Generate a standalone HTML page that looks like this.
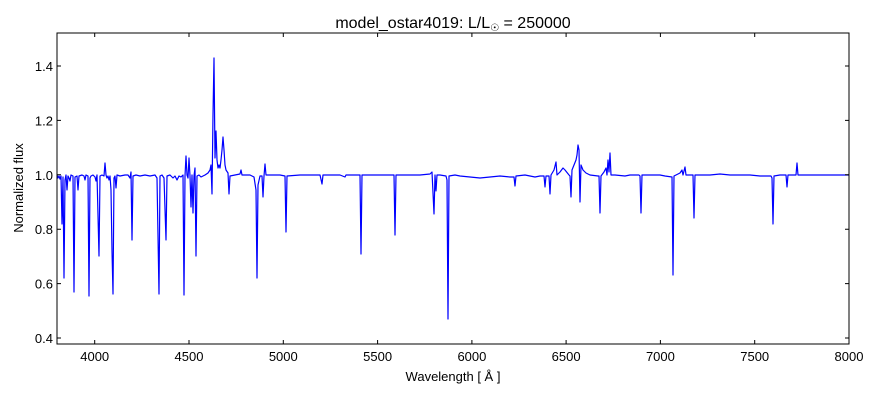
<!DOCTYPE html>
<html><head><meta charset="utf-8"><style>
body{margin:0;background:#fff}
svg text{font-family:"Liberation Sans","DejaVu Sans",sans-serif;fill:#000}
</style></head><body>
<svg width="880" height="400" viewBox="0 0 880 400" xmlns="http://www.w3.org/2000/svg">
<rect width="880" height="400" fill="#fff"/>
<text x="453" y="28" font-size="16" text-anchor="middle">model_ostar4019: L/L<tspan font-size="10" dy="3">☉</tspan><tspan dy="-3"> = 250000</tspan></text>
<clipPath id="c"><rect x="57" y="33" width="792" height="311"/></clipPath>
<g clip-path="url(#c)">
<path fill="none" stroke="#0000ff" stroke-width="1.2" stroke-linejoin="round" d="
M57 175 L58 178 L59 176 L60 179 L61 176 L62 224 L63 177 L64 278 L65 180 L66 175 L67 190 L68 176 L69 178 L70 181 L71 175 L73 176 L74 292 L75 177 L77 176 L78 190 L79 176 L82 175 L84 176 L85 180 L86 175 L88 176 L89 296 L90 178 L91 176 L93 175 L95 177 L96 181 L97 175 L99 256 L100 176 L102 175 L104 176 L105 163 L106 175 L107 178 L108 176 L109 180 L110 176 L111 190 L112 251 L113 294 L114 178 L115 176 L116 188 L117 175 L120 176 L125 175 L128 175 L130 178 L131 172 L132 240 L133 176 L136 175 L140 176 L145 175 L150 176 L155 175 L157 178 L159 294 L160 176 L162 175 L164 178 L166 240 L167 176 L170 175 L173 178 L175 176 L177 180 L179 176 L181 177 L183 175 L184 295 L185 176 L186 156 L187 175 L188 178 L189 158 L190 176 L191 207 L192 175 L193 213 L194 176 L195 168 L196 256 L197 176 L199 175 L201 177 L205 175 L208 173 L210 170 L211 165 L212 194 L213 115 L214 58 L215 158 L216 131 L217 160 L218 168 L219 165 L220 168 L221 160 L222 150 L223 137 L224 150 L225 165 L226 170 L228 173 L229 194 L230 176 L235 175 L240 174 L241 170 L242 175 L250 175 L254 177 L256 190 L257 278 L258 185 L260 176 L262 176 L263 197 L264 176 L265 164 L266 175 L270 175 L280 175 L285 176 L286 232 L287 176 L300 175 L320 175 L322 184 L323 175 L340 175 L345 177 L346 175 L360 175 L361 254 L362 175 L380 175 L394 175 L395 235 L396 175 L420 175 L430 174 L432 172 L434 214 L435 175 L436 191 L437 175 L440 175 L446 176 L447 180 L448 319 L449 176 L455 175 L460 176 L470 177 L480 178 L490 177 L500 176 L510 177 L514 177 L515 186 L516 176 L525 175 L535 177 L540 176 L544 176 L545 187 L546 176 L549 176 L550 194 L551 175 L554 170 L556 162 L557 175 L560 172 L563 168 L565 170 L569 175 L570 176 L571 197 L572 170 L574 165 L576 160 L577 155 L578 145 L579 150 L580 202 L581 165 L583 170 L586 173 L590 175 L598 176 L599 176 L600 213 L601 176 L604 172 L606 168 L607 175 L608 160 L609 172 L610 153 L611 175 L615 175 L625 176 L630 175 L639 175 L640 176 L641 213 L642 175 L660 175 L665 176 L672 177 L673 275 L674 176 L680 173 L682 170 L683 175 L685 167 L686 175 L693 175 L694 218 L695 175 L710 175 L720 174 L730 175 L750 175 L760 176 L771 176 L772 178 L773 224 L774 176 L780 175 L786 175 L787 187 L788 175 L795 175 L796 175 L797 163 L798 175 L820 175 L849 175"/>
</g>
<rect x="57" y="33" width="792" height="311" fill="none" stroke="#000" stroke-width="1"/>
<g stroke="#000" stroke-width="1">
<path d="M94.7 344v-4M189 344v-4M283.3 344v-4M377.6 344v-4M471.9 344v-4M566.1 344v-4M660.4 344v-4M754.7 344v-4M94.7 33v4M189 33v4M283.3 33v4M377.6 33v4M471.9 33v4M566.1 33v4M660.4 33v4M754.7 33v4"/>
<path d="M57 338h4M57 283.6h4M57 229.2h4M57 174.8h4M57 120.4h4M57 66h4M849 338h-4M849 283.6h-4M849 229.2h-4M849 174.8h-4M849 120.4h-4M849 66h-4"/>
</g>
<g font-size="13" text-anchor="middle">
<text x="94.7" y="361">4000</text><text x="189" y="361">4500</text><text x="283.3" y="361">5000</text><text x="377.6" y="361">5500</text><text x="471.9" y="361">6000</text><text x="566.1" y="361">6500</text><text x="660.4" y="361">7000</text><text x="754.7" y="361">7500</text><text x="849" y="361">8000</text>
</g>
<g font-size="13" text-anchor="end">
<text x="53" y="343">0.4</text><text x="53" y="288.6">0.6</text><text x="53" y="234.2">0.8</text><text x="53" y="179.8">1.0</text><text x="53" y="125.4">1.2</text><text x="53" y="71">1.4</text>
</g>
<text x="453" y="381" font-size="13" text-anchor="middle">Wavelength [ Å ]</text>
<text transform="translate(23 188) rotate(-90)" font-size="13" text-anchor="middle">Normalized flux</text>
</svg>
</body></html>
